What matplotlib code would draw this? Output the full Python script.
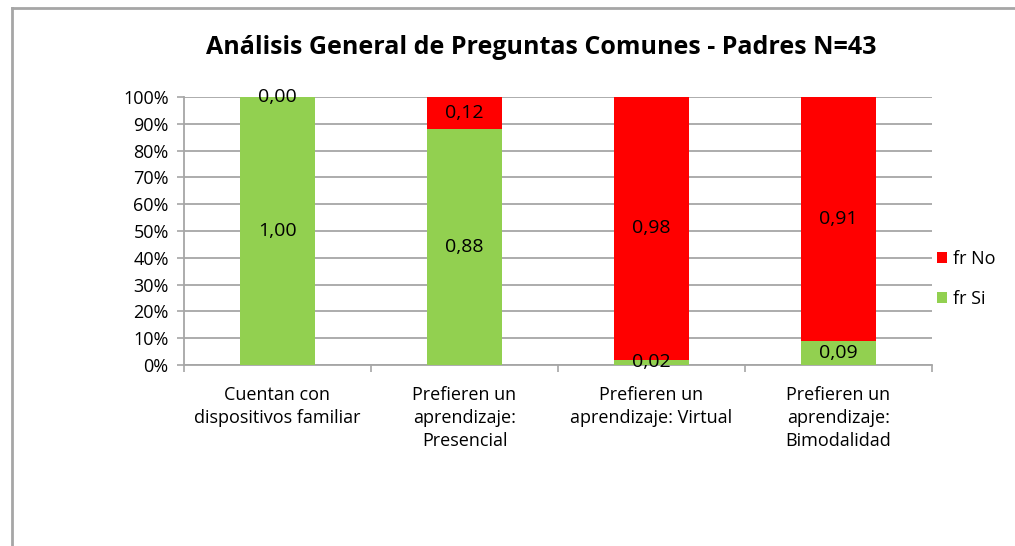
import matplotlib.pyplot as plt
from matplotlib.lines import Line2D
from matplotlib.patches import Patch

## Data
categorias = ['Cuentan con\ndispositivos familiar',
              'Prefieren un\naprendizaje:\nPresencial',
              'Prefieren un\naprendizaje: Virtual',
              'Prefieren un\naprendizaje:\nBimodalidad']
fr_si = [1.00, 0.88, 0.02, 0.09]
fr_no = [0.00, 0.12, 0.98, 0.91]
yticks = [0, 10, 20, 30, 40, 50, 60, 70, 80, 90, 100]

verde = '#92D050'
rojo = '#FF0000'
gris = '#A6A6A6'

plt.rcParams['font.family'] = ['Open Sans', 'DejaVu Sans']

W, H = 1015, 546
fig = plt.figure(figsize=(W / 100, H / 100), dpi=100)
ax = fig.add_axes([184 / W, 1 - 365 / H, (932 - 184) / W, (365 - 97) / H])

x = list(range(len(categorias)))
ax.bar(x, fr_si, width=0.4, color=verde, zorder=3)
ax.bar(x, fr_no, width=0.4, bottom=fr_si, color=rojo, zorder=3)

# etiquetas de datos, centradas en cada segmento
for i in x:
    ax.text(i, fr_si[i] / 2, f'{fr_si[i]:.2f}'.replace('.', ','),
            ha='center', va='center', fontsize=14, zorder=4)
    ax.text(i, fr_si[i] + fr_no[i] / 2, f'{fr_no[i]:.2f}'.replace('.', ','),
            ha='center', va='center', fontsize=14, zorder=4)

ax.set_xlim(-0.5, len(categorias) - 0.5)
ax.set_ylim(0, 1)
ax.set_yticks([v / 100 for v in yticks])
ax.set_yticklabels([f'{v}%' for v in yticks], fontsize=13)
ax.yaxis.grid(True, color=gris, linewidth=1.3, zorder=0)
ax.set_axisbelow(True)

ax.set_xticks(x)
ax.set_xticklabels(categorias, fontsize=13, linespacing=1.38)
ax.set_xticks([i - 0.5 for i in range(len(categorias) + 1)], minor=True)
ax.tick_params(axis='x', which='major', length=0, pad=15)
ax.tick_params(axis='x', which='minor', length=5, color=gris, width=1.2)
ax.tick_params(axis='y', length=5, color=gris, width=1.2, pad=6)

for s in ['top', 'right']:
    ax.spines[s].set_visible(False)
for s in ['left', 'bottom']:
    ax.spines[s].set_color(gris)
    ax.spines[s].set_linewidth(1.3)

fig.text(541 / W, 1 - 48 / H, 'Análisis General de Preguntas Comunes - Padres N=43',
         ha='center', va='center', fontsize=18, fontweight='bold')

handles = [Patch(facecolor=rojo, label='fr No'), Patch(facecolor=verde, label='fr Si')]
fig.legend(handles=handles, loc='center left', bbox_to_anchor=(921 / W, 1 - 279 / H),
           frameon=False, fontsize=13, handlelength=0.55, handleheight=0.55,
           handletextpad=0.3, labelspacing=1.2)

# marco del grafico
fig.add_artist(Line2D([11.5 / W, 11.5 / W], [0, 1 - 7.5 / H], color=gris, linewidth=2,
                      transform=fig.transFigure))
fig.add_artist(Line2D([11.5 / W, 1], [1 - 7.5 / H, 1 - 7.5 / H], color=gris, linewidth=2,
                      transform=fig.transFigure))

fig.savefig('out.png', dpi=100)
